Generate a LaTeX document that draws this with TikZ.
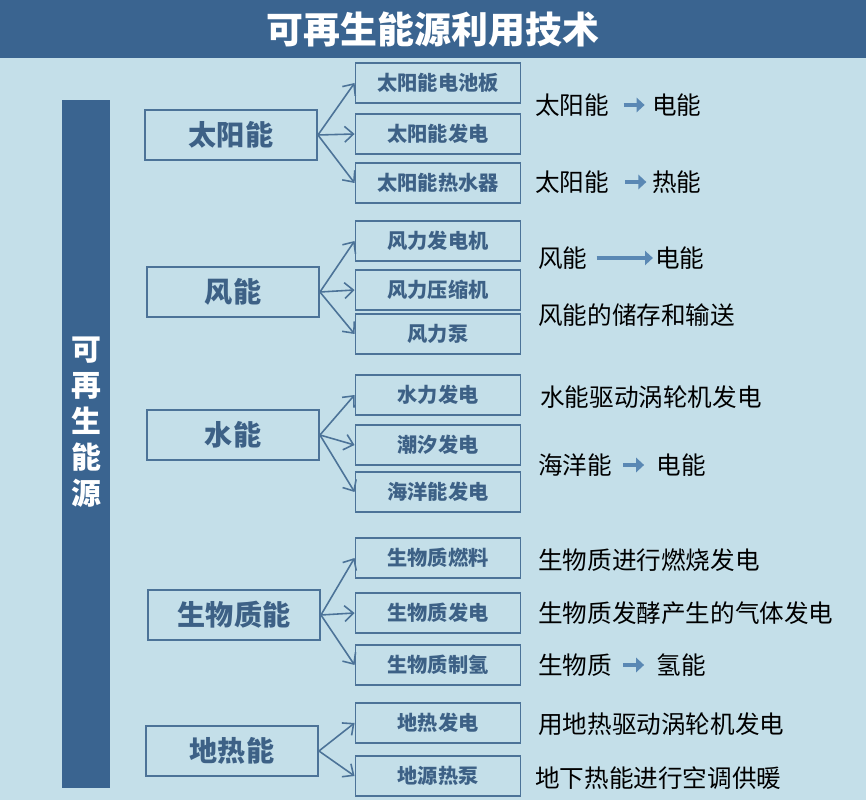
\documentclass[tikz,border=0pt]{standalone}
\usepackage{fontspec}
\setmainfont{Noto Sans CJK SC}
\usetikzlibrary{arrows.meta,positioning}
\definecolor{bgblue}{HTML}{C4DFE9}
\definecolor{headblue}{HTML}{3A6490}
\definecolor{inkblue}{HTML}{3D6186}
\definecolor{linkblue}{HTML}{4C7398}
\definecolor{flowblue}{HTML}{5A88B4}
\tikzset{
  mainbox/.style={draw=linkblue, line width=1.1pt, minimum width=3.44cm, minimum height=1cm,
    text=inkblue, font=\fontsize{16}{16}\selectfont\bfseries},
  subbox/.style={draw=linkblue, line width=1.1pt, minimum width=3.3cm, minimum height=0.8cm,
    text=inkblue, font=\fontsize{11.5}{12}\selectfont\bfseries},
  note/.style={anchor=west, inner sep=0pt, font=\fontsize{14}{14}\selectfont},
  link/.style={draw=linkblue, line width=0.9pt, -{Straight Barb[length=5pt,width=9pt]}},
  flow/.style={draw=flowblue, line width=2.6pt, -{Triangle[length=4.5pt,width=8pt]}}
}
\begin{document}
\begin{tikzpicture}[x=0.02cm, y=-0.02cm]
\useasboundingbox (0,0) rectangle (866,800);
\fill[bgblue] (0,0) rectangle (866,800);
\fill[headblue] (0,0) rectangle (866,58);
\node[text=white, font=\fontsize{21}{21}\selectfont\bfseries] (title) at (433,30) {可再生能源利用技术};
\fill[headblue] (62,100) rectangle (110,788);
\node[text=white, align=center, font=\fontsize{17}{20.5}\selectfont\bfseries] (side) at (86,422) {可\\再\\生\\能\\源};

% main sources
\node[mainbox] (sun) at (231,135) {太阳能};
\node[mainbox] (wind) at (233,292) {风能};
\node[mainbox] (water) at (233,435) {水能};
\node[mainbox] (bio) at (234,615) {生物质能};
\node[mainbox] (geo) at (232,751) {地热能};

% technologies
\node[subbox] (s1) at (438,83) {太阳能电池板};
\node[subbox] (s2) at (438,134) {太阳能发电};
\node[subbox] (s3) at (438,183) {太阳能热水器};
\node[subbox] (w1) at (438,241) {风力发电机};
\node[subbox] (w2) at (438,290) {风力压缩机};
\node[subbox] (w3) at (438,334) {风力泵};
\node[subbox] (h1) at (438,395) {水力发电};
\node[subbox] (h2) at (438,445) {潮汐发电};
\node[subbox] (h3) at (438,492) {海洋能发电};
\node[subbox] (b1) at (438,558) {生物质燃料};
\node[subbox] (b2) at (438,613) {生物质发电};
\node[subbox] (b3) at (438,665) {生物质制氢};
\node[subbox] (g1) at (438,723) {地热发电};
\node[subbox] (g2) at (438,776) {地源热泵};

\foreach \a/\b in {sun/s1,sun/s2,sun/s3,wind/w1,wind/w2,wind/w3,water/h1,water/h2,water/h3,
                   bio/b1,bio/b2,bio/b3,geo/g1,geo/g2}
  \draw[link] (\a.east) -- (\b.west);

% notes
\node[note] (n1a) at (535,105) {太阳能};
\node[note, right=24pt of n1a] (n1b) {电能};
\draw[flow, shorten <=8pt, shorten >=4pt] (n1a.east) -- (n1b.west);
\node[note] (n2a) at (535,182) {太阳能};
\node[note, right=24pt of n2a] (n2b) {热能};
\draw[flow, shorten <=9pt, shorten >=3pt] (n2a.east) -- (n2b.west);
\node[note] (n3a) at (538,258) {风能};
\node[note, right=38pt of n3a] (n3b) {电能};
\draw[flow, shorten <=5pt, shorten >=1pt] (n3a.east) -- (n3b.west);
\node[note] (n4) at (538,315) {风能的储存和输送};
\node[note] (n5) at (540,397) {水能驱动涡轮机发电};
\node[note] (n6a) at (538,465) {海洋能};
\node[note, right=25pt of n6a] (n6b) {电能};
\draw[flow, shorten <=6pt, shorten >=7pt] (n6a.east) -- (n6b.west);
\node[note] (n7) at (538,560) {生物质进行燃烧发电};
\node[note] (n8) at (538,613) {生物质发酵产生的气体发电};
\node[note] (n9a) at (538,665) {生物质};
\node[note, right=25pt of n9a] (n9b) {氢能};
\draw[flow, shorten <=6pt, shorten >=7pt] (n9a.east) -- (n9b.west);
\node[note] (n10) at (538,724) {用地热驱动涡轮机发电};
\node[note] (n11) at (535,778) {地下热能进行空调供暖};
\end{tikzpicture}
\end{document}
